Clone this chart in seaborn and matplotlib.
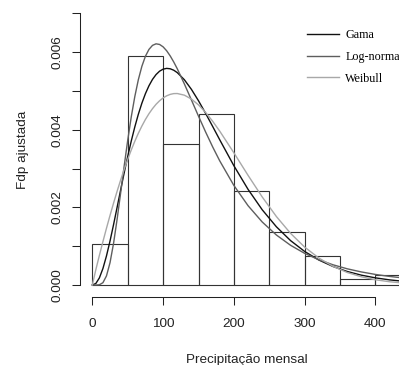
import matplotlib
matplotlib.use("Agg")
import matplotlib.pyplot as plt
import seaborn as sns

# ---------------- data ----------------
bin_edges = [0, 50, 100, 150, 200, 250, 300, 350, 400, 450]
bin_density = [0.00106, 0.00590, 0.00363, 0.00441, 0.00243,
               0.00136, 0.00075, 0.00015, 0.00026]

x_curve = [0, 5, 10, 15, 20, 25, 30, 35, 40, 45, 50, 55, 60, 65, 70, 75, 80,
           85, 90, 95, 100, 105, 110, 115, 120, 130, 140, 150, 160, 170, 180,
           200, 220, 240, 260, 280, 300, 320, 340, 360, 380, 400, 420, 440]

gama = [0.0, 0.0000402, 0.000184, 0.000426, 0.000750, 0.001133, 0.001556,
        0.002001, 0.002450, 0.002892, 0.003314, 0.003710, 0.004073, 0.004400,
        0.004686, 0.004931, 0.005135, 0.005299, 0.005423, 0.005511, 0.005563,
        0.005583, 0.005573, 0.005536, 0.005474, 0.005291, 0.005042, 0.004748,
        0.004425, 0.004086, 0.003742, 0.003073, 0.002465, 0.001939, 0.001501,
        0.001145, 0.000864, 0.000644, 0.000477, 0.000349, 0.000254, 0.000184,
        0.000132, 0.0000946]

lognormal = [0.0, 0.0, 0.0000059, 0.0000603, 0.000235, 0.000575, 0.001074,
             0.001692, 0.002373, 0.003066, 0.003729, 0.004332, 0.004855,
             0.005291, 0.005637, 0.005895, 0.006072, 0.006176, 0.006216,
             0.006200, 0.006138, 0.006037, 0.005905, 0.005748, 0.005573,
             0.005183, 0.004769, 0.004351, 0.003945, 0.003559, 0.003199,
             0.002565, 0.002044, 0.001624, 0.001289, 0.001024, 0.000815,
             0.000651, 0.000521, 0.000418, 0.000337, 0.000272, 0.000221,
             0.000180]

weibull = [0.0, 0.000397, 0.000766, 0.001120, 0.001463, 0.001793, 0.002111,
           0.002415, 0.002705, 0.002980, 0.003238, 0.003480, 0.003704,
           0.003910, 0.004097, 0.004266, 0.004415, 0.004545, 0.004657,
           0.004748, 0.004822, 0.004876, 0.004913, 0.004933, 0.004935,
           0.004893, 0.004792, 0.004642, 0.004448, 0.004220, 0.003965,
           0.003406, 0.002826, 0.002269, 0.001765, 0.001332, 0.000976,
           0.000695, 0.000481, 0.000323, 0.000212, 0.000135, 0.0000837,
           0.0000506]

series_labels = ["Gama", "Log-normal", "Weibull"]
series_colors = ["#111111", "#5e5e5e", "#a8a8a8"]

x_ticks = [0, 100, 200, 300, 400]
x_tick_labels = ["0", "100", "200", "300", "400"]
y_ticks = [0.000, 0.001, 0.002, 0.003, 0.004, 0.005, 0.006, 0.007]
y_tick_labels = ["0.000", "", "0.002", "", "0.004", "", "0.006", ""]

x_label = "Precipitação mensal"
y_label = "Fdp ajustada"

# ---------------- figure ----------------
plt.rcParams["font.family"] = ["Liberation Sans", "DejaVu Sans"]
W, H = 399, 365
fig = plt.figure(figsize=(W / 100, H / 100), dpi=100)
fig.patch.set_facecolor("white")
ax = fig.add_axes([80 / W, (H - 297) / H, (W - 80) / W, (297 - 2.5) / H])
ax.set_facecolor("white")

bin_mids = [(a + b) / 2 for a, b in zip(bin_edges[:-1], bin_edges[1:])]
sns.histplot(x=bin_mids, weights=bin_density, bins=bin_edges, stat="count",
             fill=False, color="#333333", linewidth=0.8, ax=ax)

for vals, lab, col in zip([gama, lognormal, weibull], series_labels, series_colors):
    sns.lineplot(x=x_curve, y=vals, color=col, linewidth=1.0, label=lab,
                 estimator=None, sort=False, ax=ax)

ax.set_xlim(-17.4, 433.2)
ax.set_ylim(-0.000309, 0.007281)

for s in ["top", "right"]:
    ax.spines[s].set_visible(False)
ax.spines["left"].set_bounds(0, 0.007)
ax.spines["bottom"].set_bounds(0, 400)
for s in ["left", "bottom"]:
    ax.spines[s].set_linewidth(0.75)
    ax.spines[s].set_color("#222222")

ax.set_xticks(x_ticks)
ax.set_xticklabels(x_tick_labels)
ax.set_yticks(y_ticks)
ax.set_yticklabels(y_tick_labels, rotation=90, va="center")
ax.tick_params(axis="both", direction="out", length=5.5, width=0.75,
               color="#222222", labelcolor="#222222", labelsize=9.7)
ax.tick_params(axis="x", pad=9.5)
ax.tick_params(axis="y", pad=6.5)

ax.set_xlabel(x_label, fontsize=9.7, color="#222222")
ax.xaxis.label.set_va("center")
ax.xaxis.set_label_coords((247 - 80) / 319, (297 - 360) / 294.5)
ax.set_ylabel(y_label, fontsize=9.7, color="#222222")
ax.yaxis.label.set_va("center")
ax.yaxis.set_label_coords((23 - 80) / 319, (297 - 150) / 294.5)

handles, labels = ax.get_legend_handles_labels()
if ax.get_legend() is not None:
    ax.get_legend().remove()
fig.legend(handles, labels, loc="upper left",
           bbox_to_anchor=(307 / W, 1 - 29.5 / H), bbox_transform=fig.transFigure,
           frameon=False, prop={"family": "Liberation Serif", "size": 8.7},
           handlelength=2.67, handletextpad=0.5, labelspacing=0.79,
           borderpad=0, borderaxespad=0)

fig.savefig("out.png", dpi=100, facecolor="white")
